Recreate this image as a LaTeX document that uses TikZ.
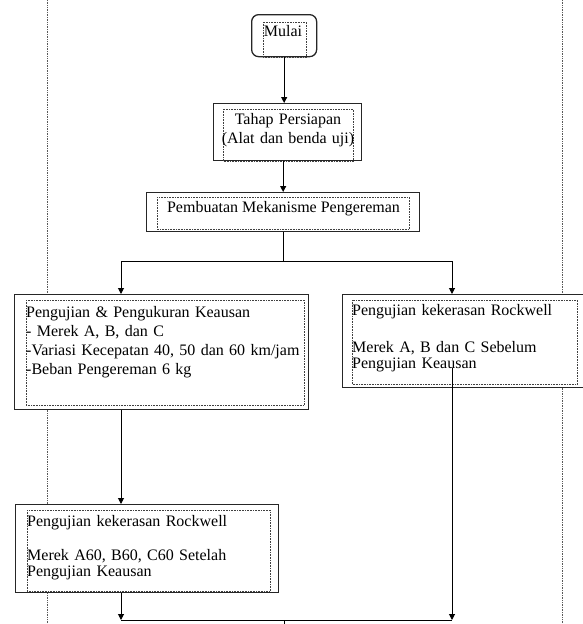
\documentclass[tikz,border=0pt]{standalone}
\usepackage{fontspec}
\setmainfont{Liberation Serif}
\usetikzlibrary{calc, arrows.meta}

\tikzset{
  langkah/.style={draw=black!85, line width=1.3pt, fill=white, inner sep=0pt, anchor=north west},
  bingkai/.style={draw=black!75, line width=0.7pt, dash pattern=on 0.8pt off 0.8pt},
  isi/.style={inner sep=0pt, font=\fontsize{16}{19.3}\selectfont, text=black},
  rapat/.style={font=\fontsize{16}{16}\selectfont},
  panah/.style={-{Triangle[length=6pt,width=6pt]}, line width=1pt},
  garis/.style={line width=1pt},
  batas/.style={draw=black!65, line width=0.8pt, dash pattern=on 0.8pt off 0.9pt}
}

\begin{document}
\begin{tikzpicture}[x=1pt, y=-1pt]
\useasboundingbox (0,0) rectangle (583,624);

% garis tepi halaman
\draw[batas] (47,0) -- (47,624);
\draw[batas] (562,0) -- (562,624);

% kotak langkah
\node[langkah, rounded corners=7pt, minimum width=65pt, minimum height=42pt] (mulai) at (251,14) {};
\node[langkah, minimum width=148pt, minimum height=57pt] (tahap) at (213,103) {};
\node[langkah, minimum width=273pt, minimum height=39pt] (buat) at (146,192) {};
\node[langkah, minimum width=294pt, minimum height=115pt] (uji) at (14,294) {};
\node[langkah, minimum width=241pt, minimum height=93pt] (rockA) at (342,294) {};
\node[langkah, minimum width=263pt, minimum height=88pt] (rockB) at (15,504) {};

% bingkai titik di dalam kotak
\draw[bingkai] ($(mulai.north west)+(12,8)$) rectangle ($(mulai.south east)+(-11,0)$);
\draw[bingkai] ($(tahap.north west)+(10,6)$) rectangle ($(tahap.south east)+(-9,0)$);
\draw[bingkai] ($(buat.north west)+(11,5)$) rectangle ($(buat.south east)+(-11,-3)$);
\draw[bingkai] ($(uji.north west)+(12,6)$) rectangle ($(uji.south east)+(-5,-5)$);
\draw[bingkai] ($(rockA.north west)+(10,6)$) rectangle ($(rockA.south east)+(-7,-4)$);
\draw[bingkai] ($(rockB.north west)+(12,6)$) rectangle ($(rockB.south east)+(-9,-2)$);

% teks
\node[isi, anchor=base] (mulaiteks) at (283,36) {Mulai};
\node[isi, text width=150pt, align=center, anchor=base] (tahapteks) at (288,124) {Tahap Persiapan\\(Alat dan benda uji)};
\node[isi, anchor=base] (buatteks) at (283.5,212) {Pembuatan Mekanisme Pengereman};
\node[isi, text width=280pt, align=left, anchor=base west] (ujiteks) at (26,317)
  {Pengujian \& Pengukuran Keausan\\- Merek A, B, dan C\\-Variasi Kecepatan 40, 50 dan 60 km/jam\\-Beban Pengereman 6 kg};
\node[isi, rapat, text width=230pt, align=left, anchor=base west] (rockAteks) at (352,315)
  {Pengujian kekerasan Rockwell\\[21pt]Merek A, B dan C Sebelum\\Pengujian Keausan};
\node[isi, rapat, text width=240pt, align=left, anchor=base west] (rockBteks) at (27,526)
  {Pengujian kekerasan Rockwell\\[18pt]Merek A60, B60, C60 Setelah\\Pengujian Keausan};

% penghubung
\coordinate (tkiri) at (121,261);
\coordinate (tkanan) at (452,261);
\coordinate (bkiri) at (121,620);
\coordinate (bkanan) at (452,620);
\coordinate (rockAbawah) at (452,368);
\coordinate (lanjut) at (284,624);

\draw[panah] (mulai.south) -- (mulai.south |- tahap.north);
\draw[panah] (buat.north |- tahap.south) -- (buat.north);
\draw[garis] (buat.south) -- (buat.south |- tkiri);
\draw[garis] (tkiri) -- (tkanan);
\draw[panah] (tkiri) -- (tkiri |- uji.north);
\draw[panah] (tkanan) -- (tkanan |- rockA.north);
\draw[panah] (tkiri |- uji.south) -- (tkiri |- rockB.north);
\draw[panah] (tkiri |- rockB.south) -- (bkiri);
\draw[panah] (rockAbawah) -- (bkanan);
\draw[garis] (bkiri) -- (bkanan);
\draw[garis] (lanjut |- bkiri) -- (lanjut);
\end{tikzpicture}
\end{document}
